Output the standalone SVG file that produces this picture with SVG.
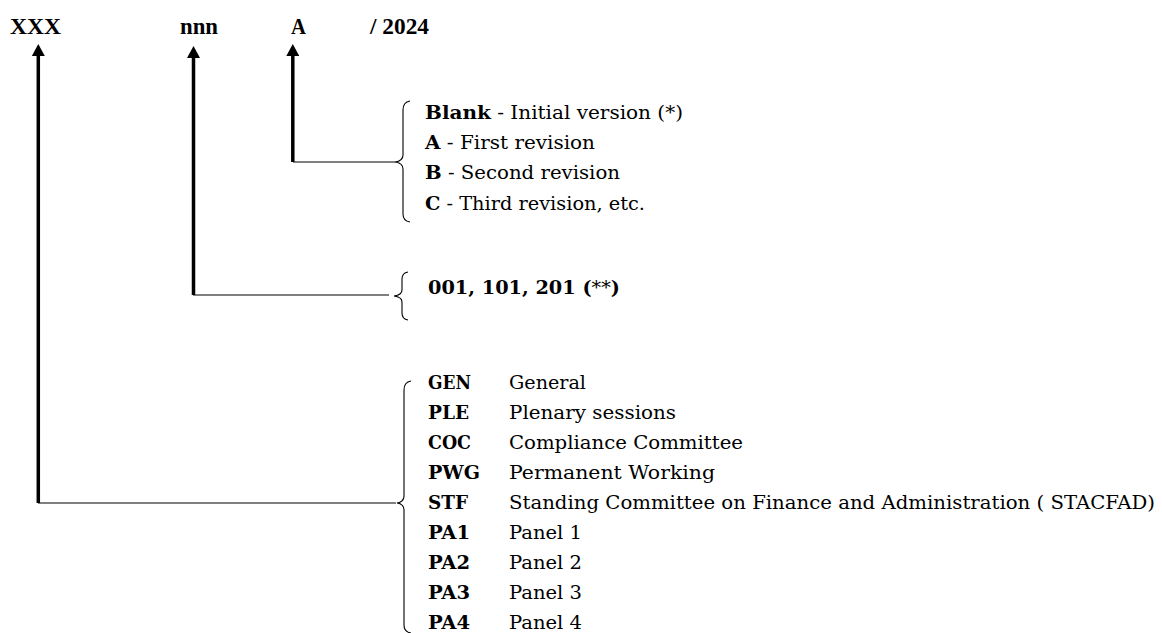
<svg xmlns="http://www.w3.org/2000/svg" width="1162" height="633" viewBox="0 0 1162 633">
<style>
.top{font-family:"Liberation Serif","Times New Roman",serif;font-weight:bold;font-size:23px;fill:#000}
.t{font-family:"DejaVu Serif","Liberation Serif",serif;font-size:18.5px;fill:#000}
.b{font-weight:bold}
.shaft{stroke:#000;stroke-width:3.5;fill:none}
.thin{stroke:#000;stroke-width:1.2;fill:none}
.brace{stroke:#000;stroke-width:1.1;fill:none}
</style>
<defs>
<marker id="ah" markerUnits="userSpaceOnUse" viewBox="0 0 12 13" refX="1" refY="6.5" markerWidth="12" markerHeight="13" orient="auto">
<path d="M0,0 L12,6.5 L0,13 z" fill="#000"/>
</marker>
</defs>
<rect width="1162" height="633" fill="#fff"/>
<g id="code-format">
<text class="top" x="10" y="34" textLength="51" lengthAdjust="spacingAndGlyphs">XXX</text>
<text class="top" x="180" y="34" textLength="38" lengthAdjust="spacingAndGlyphs">nnn</text>
<text class="top" x="291" y="34" textLength="15" lengthAdjust="spacingAndGlyphs">A</text>
<text class="top" x="370" y="34" textLength="59" lengthAdjust="spacingAndGlyphs">/ 2024</text>
</g>
<g id="connectors">
<path class="shaft" d="M38.3,503 V55" marker-end="url(#ah)"/>
<path class="shaft" d="M193.5,295 V57" marker-end="url(#ah)"/>
<path class="shaft" d="M292.8,162 V55" marker-end="url(#ah)"/>
<path class="thin" d="M293,162 H395"/>
<path class="thin" d="M193,295 H389"/>
<path class="thin" d="M38,503 H396"/>
<path class="brace" d="M410,101 Q403,102 403,110 L403,155 Q403,161 395,162 Q403,163 403,169 L403,214 Q403,221 410,222"/>
<path class="brace" d="M408,272 Q402,273 402,279 L402,290 Q402,295 394,296 Q402,297 402,302 L402,313 Q402,319 408,320"/>
<path class="brace" d="M411,381 Q404,382 404,390 L404,496 Q404,502 397,503 Q404,504 404,510 L404,625 Q404,632 411,633"/>
</g>
<g id="revisions">
<text class="t" x="425" y="119" textLength="258" lengthAdjust="spacingAndGlyphs"><tspan class="b">Blank</tspan> - Initial version (*)</text>
<text class="t" x="425" y="149" textLength="170" lengthAdjust="spacingAndGlyphs"><tspan class="b">A</tspan> - First revision</text>
<text class="t" x="425" y="179" textLength="195" lengthAdjust="spacingAndGlyphs"><tspan class="b">B</tspan> - Second revision</text>
<text class="t" x="425" y="210" textLength="220" lengthAdjust="spacingAndGlyphs"><tspan class="b">C</tspan> - Third revision, etc.</text>
</g>
<g id="numbers">
<text class="t" x="428" y="294" textLength="192" lengthAdjust="spacingAndGlyphs"><tspan class="b">001, 101, 201 (</tspan>**<tspan class="b">)</tspan></text>
</g>
<g id="categories">
<text class="t b" x="428" y="389" textLength="43" lengthAdjust="spacingAndGlyphs">GEN</text>
<text class="t" x="509" y="389" textLength="77" lengthAdjust="spacingAndGlyphs">General</text>
<text class="t b" x="428" y="419" textLength="41" lengthAdjust="spacingAndGlyphs">PLE</text>
<text class="t" x="509" y="419" textLength="167" lengthAdjust="spacingAndGlyphs">Plenary sessions</text>
<text class="t b" x="428" y="449" textLength="43" lengthAdjust="spacingAndGlyphs">COC</text>
<text class="t" x="509" y="449" textLength="234" lengthAdjust="spacingAndGlyphs">Compliance Committee</text>
<text class="t b" x="428" y="479" textLength="52" lengthAdjust="spacingAndGlyphs">PWG</text>
<text class="t" x="509" y="479" textLength="206" lengthAdjust="spacingAndGlyphs">Permanent Working</text>
<text class="t b" x="428" y="509" textLength="40" lengthAdjust="spacingAndGlyphs">STF</text>
<text class="t" x="509" y="509" textLength="646" lengthAdjust="spacingAndGlyphs">Standing Committee on Finance and Administration ( STACFAD)</text>
<text class="t b" x="428" y="539" textLength="42" lengthAdjust="spacingAndGlyphs">PA1</text>
<text class="t" x="509" y="539" textLength="73" lengthAdjust="spacingAndGlyphs">Panel 1</text>
<text class="t b" x="428" y="569" textLength="42" lengthAdjust="spacingAndGlyphs">PA2</text>
<text class="t" x="509" y="569" textLength="73" lengthAdjust="spacingAndGlyphs">Panel 2</text>
<text class="t b" x="428" y="599" textLength="42" lengthAdjust="spacingAndGlyphs">PA3</text>
<text class="t" x="509" y="599" textLength="73" lengthAdjust="spacingAndGlyphs">Panel 3</text>
<text class="t b" x="428" y="629" textLength="42" lengthAdjust="spacingAndGlyphs">PA4</text>
<text class="t" x="509" y="629" textLength="73" lengthAdjust="spacingAndGlyphs">Panel 4</text>
</g>
</svg>
